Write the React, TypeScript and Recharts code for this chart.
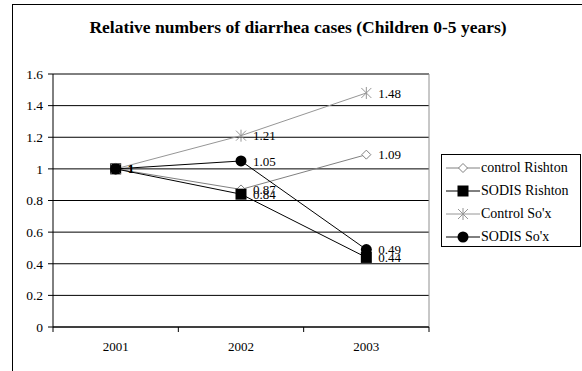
import React from "react";
import {
  LineChart,
  Line,
  XAxis,
  YAxis,
  CartesianGrid,
  LabelList,
} from "recharts";

const years = ["2001", "2002", "2003"];
const controlRishton = [1, 0.87, 1.09];
const sodisRishton = [1, 0.84, 0.44];
const controlSox = [1, 1.21, 1.48];
const sodisSox = [1, 1.05, 0.49];
const yTicks = [0, 0.2, 0.4, 0.6, 0.8, 1, 1.2, 1.4, 1.6];

const seriesNames = ["control Rishton", "SODIS Rishton", "Control So'x", "SODIS So'x"];

const data = years.map((y, i) => ({
  year: y,
  cr: controlRishton[i],
  sr: sodisRishton[i],
  cs: controlSox[i],
  ss: sodisSox[i],
}));

const FONT = "Liberation Serif, serif";

const Diamond = (props: any) => {
  const { cx, cy, stroke } = props;
  if (cx == null || cy == null) return null;
  const r = 4.5;
  return (
    <path
      d={`M${cx},${cy - r}L${cx + r},${cy}L${cx},${cy + r}L${cx - r},${cy}Z`}
      fill="#fff"
      stroke={stroke}
      strokeWidth={1}
    />
  );
};

const Square = (props: any) => {
  const { cx, cy } = props;
  if (cx == null || cy == null) return null;
  const r = 5.5;
  return <rect x={cx - r} y={cy - r} width={2 * r} height={2 * r} fill="#000" />;
};

const Star = (props: any) => {
  const { cx, cy, stroke } = props;
  if (cx == null || cy == null) return null;
  const r = 5;
  return (
    <g stroke={stroke} strokeWidth={1}>
      <line x1={cx - r} y1={cy - r} x2={cx + r} y2={cy + r} />
      <line x1={cx - r} y1={cy + r} x2={cx + r} y2={cy - r} />
      <line x1={cx} y1={cy - r - 1} x2={cx} y2={cy + r + 1} />
    </g>
  );
};

const Circle = (props: any) => {
  const { cx, cy } = props;
  if (cx == null || cy == null) return null;
  return <circle cx={cx} cy={cy} r={5.5} fill="#000" />;
};

const XTick = (props: any) => {
  const { x, y, payload, index, visibleTicksCount } = props;
  const off = payload.offset || 0;
  return (
    <g>
      <line x1={x - off} y1={y - 8} x2={x - off} y2={y - 3} stroke="#000" />
      {index === visibleTicksCount - 1 && (
        <line x1={x + off} y1={y - 8} x2={x + off} y2={y - 3} stroke="#000" />
      )}
      <text
        x={x}
        y={y + 16}
        textAnchor="middle"
        fontFamily={FONT}
        fontSize={13}
        fill="#000"
      >
        {payload.value}
      </text>
    </g>
  );
};

const legendItems = [
  { name: seriesNames[0], color: "#808080", Shape: Diamond },
  { name: seriesNames[1], color: "#000", Shape: Square },
  { name: seriesNames[2], color: "#969696", Shape: Star },
  { name: seriesNames[3], color: "#000", Shape: Circle },
];

const LegendBox = () => (
  <div
    style={{
      position: "absolute",
      left: 441,
      top: 154,
      border: "1px solid #000",
      width: 140,
      height: 93,
      boxSizing: "border-box",
      background: "#fff",
      padding: "1px 0 0 4px",
    }}
  >
    {legendItems.map((it) => (
      <div
        key={it.name}
        style={{ display: "flex", alignItems: "center", height: 23 }}
      >
        <svg width={34} height={14} style={{ display: "block" }}>
          <line x1={0} y1={7} x2={34} y2={7} stroke={it.color} strokeWidth={1} />
          <it.Shape cx={17} cy={7} stroke={it.color} />
        </svg>
        <span
          style={{
            fontFamily: FONT,
            fontSize: 14,
            color: "#000",
            marginLeft: 1,
            whiteSpace: "nowrap",
          }}
        >
          {it.name}
        </span>
      </div>
    ))}
  </div>
);

const labelStyle = { fontFamily: FONT, fontSize: 13, fill: "#000" };

export default function App() {
  return (
    <div
      style={{
        position: "absolute",
        left: 0,
        top: 0,
        width: 582,
        height: 371,
        overflow: "hidden",
        background: "#fff",
      }}
    >
      <div
        style={{
          position: "absolute",
          left: 12,
          top: 4,
          width: 600,
          height: 400,
          border: "1px solid #000",
        }}
      />
      <div
        style={{
          position: "absolute",
          left: 0,
          top: 19,
          width: 596,
          textAlign: "center",
          fontFamily: FONT,
          fontWeight: "bold",
          fontSize: 17.5,
          lineHeight: "17.5px",
          color: "#000",
          whiteSpace: "nowrap",
        }}
      >
        Relative numbers of diarrhea cases (Children 0-5 years)
      </div>
      <div style={{ position: "absolute", left: 0, top: 0 }}>
        <LineChart
          width={582}
          height={371}
          data={data}
          margin={{ top: 74, right: 153, bottom: 14, left: 13 }}
        >
          <CartesianGrid vertical={false} stroke="#000" strokeWidth={1} />
          <CartesianGrid
            horizontal={false}
            stroke="#909090"
            verticalCoordinatesGenerator={({ offset }: any) => [
              offset.left + offset.width,
            ]}
          />
          <XAxis
            dataKey="year"
            scale="band"
            axisLine={{ stroke: "#000" }}
            tickLine={false}
            tick={<XTick />}
            height={30}
            interval={0}
          />
          <YAxis
            domain={[0, 1.6]}
            ticks={yTicks}
            width={40}
            axisLine={{ stroke: "#000" }}
            tickLine={{ stroke: "#000" }}
            tickSize={5}
            tickMargin={5}
            tick={{ fontFamily: FONT, fontSize: 13.5, fill: "#000" }}
            interval={0}
          />
          <Line
            dataKey="cr"
            name={seriesNames[0]}
            stroke="#808080"
            strokeWidth={1}
            dot={<Diamond stroke="#808080" />}
            isAnimationActive={false}
          >
            <LabelList dataKey="cr" position="right" offset={12} style={labelStyle} />
          </Line>
          <Line
            dataKey="sr"
            name={seriesNames[1]}
            stroke="#000"
            strokeWidth={1}
            dot={<Square />}
            isAnimationActive={false}
          >
            <LabelList dataKey="sr" position="right" offset={12} style={labelStyle} />
          </Line>
          <Line
            dataKey="cs"
            name={seriesNames[2]}
            stroke="#969696"
            strokeWidth={1}
            dot={<Star stroke="#969696" />}
            isAnimationActive={false}
          >
            <LabelList dataKey="cs" position="right" offset={12} style={labelStyle} />
          </Line>
          <Line
            dataKey="ss"
            name={seriesNames[3]}
            stroke="#000"
            strokeWidth={1}
            dot={<Circle />}
            isAnimationActive={false}
          >
            <LabelList dataKey="ss" position="right" offset={12} style={labelStyle} />
          </Line>
        </LineChart>
      </div>
      <LegendBox />
    </div>
  );
}
